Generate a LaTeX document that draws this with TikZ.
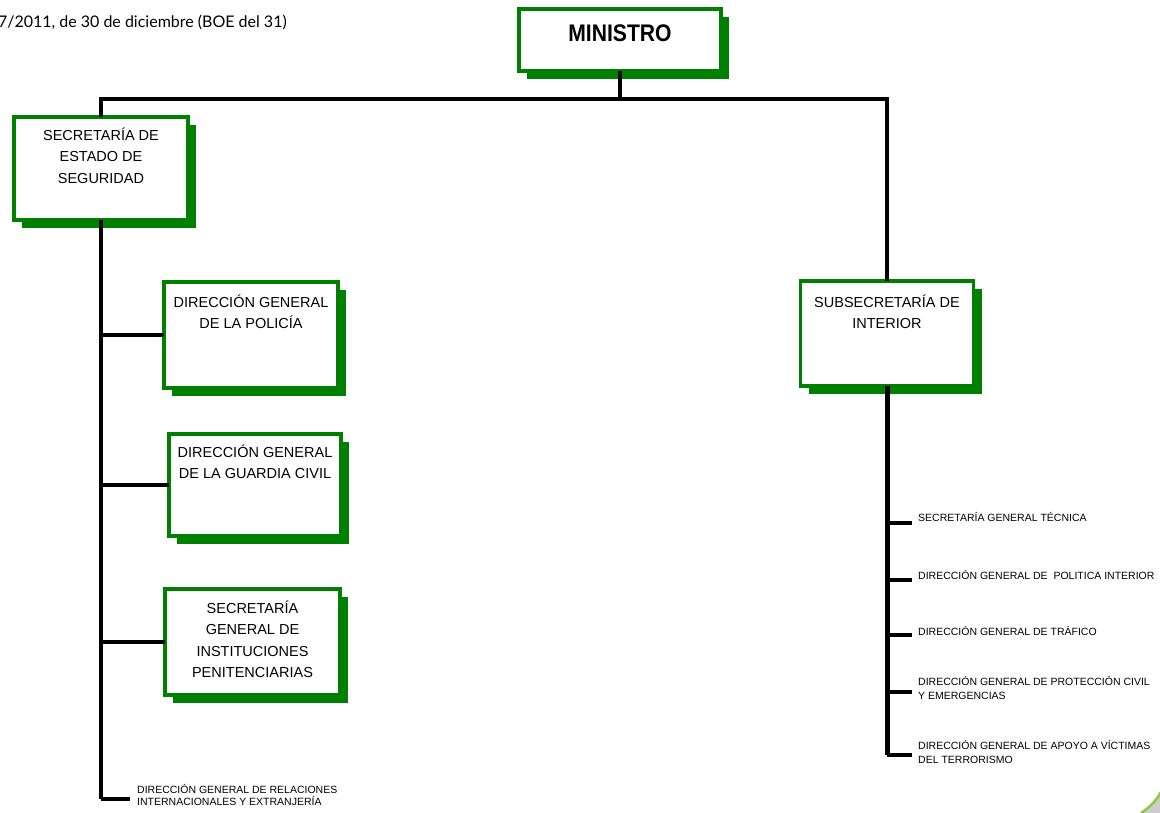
\documentclass[tikz,border=0pt]{standalone}
\usepackage{fontspec}
\setmainfont{Liberation Sans}
\newfontfamily\latofont{Lato}
\usetikzlibrary{shadows,calc,positioning}
\definecolor{boxgreen}{RGB}{0,128,0}
\definecolor{cornergreen}{RGB}{141,198,63}
\definecolor{cornergray}{RGB}{205,205,205}
\begin{document}
\begin{tikzpicture}[x=1pt,y=-1pt,
  orgbox/.style={draw=boxgreen, line width=3.8pt, fill=white, outer sep=0pt, inner sep=0pt,
    drop shadow={shadow xshift=8pt, shadow yshift=-8pt, fill=boxgreen, opacity=1}},
  boxtext/.style={anchor=north, inner sep=0pt, align=center, font=\fontsize{14.5}{21.5}\selectfont},
  smalltext/.style={anchor=west, inner sep=0pt, align=left, font=\fontsize{10.5}{13}\selectfont},
  link/.style={line width=3.5pt, line join=miter},
  heavylink/.style={line width=5pt, line join=miter}]
\path[use as bounding box, fill=white] (0,0) rectangle (1160,812);

% header text
\node[anchor=base east, inner sep=0pt, font=\latofont\fontsize{16}{16}\selectfont] (ref) at (287,27) {7/2011, de 30 de diciembre (BOE del 31)};

% boxes
\node[orgbox, minimum width=202pt, minimum height=62pt] (ministro) at (620,40) {};
\node[orgbox, minimum width=174pt, minimum height=103pt] (ses) at (101,168.5) {};
\node[orgbox, minimum width=174pt, minimum height=106pt] (pol) at (251,335) {};
\node[orgbox, minimum width=172pt, minimum height=102pt] (gc) at (255,485) {};
\node[orgbox, minimum width=175pt, minimum height=106pt] (ip) at (252.5,642) {};
\node[orgbox, minimum width=173pt, minimum height=105pt] (sub) at (887,333.5) {};

% box texts
\node[anchor=base, inner sep=0pt, font=\bfseries\fontsize{24}{24}\selectfont] (mtext) at ([yshift=-32pt]ministro.north) {\scalebox{0.88}[1]{MINISTRO}};
\node[boxtext, below=9.2pt of ses.north] (sestext) {\rule{0pt}{14pt}SECRETARÍA DE\\ESTADO DE\\SEGURIDAD};
\node[boxtext, below=11.2pt of pol.north] (poltext) {\rule{0pt}{14pt}DIRECCIÓN GENERAL\\DE LA POLICÍA};
\node[boxtext, below=9.2pt of gc.north] (gctext) {\rule{0pt}{14pt}DIRECCIÓN GENERAL\\DE LA GUARDIA CIVIL};
\node[boxtext, below=10.2pt of ip.north] (iptext) {\rule{0pt}{14pt}SECRETARÍA\\GENERAL DE\\INSTITUCIONES\\PENITENCIARIAS};
\node[boxtext, below=12.2pt of sub.north] (subtext) {\rule{0pt}{14pt}SUBSECRETARÍA DE\\INTERIOR};

% small texts
\node[smalltext] (t1) at (918,517) {SECRETARÍA GENERAL TÉCNICA};
\node[smalltext] (t2) at (918,575) {DIRECCIÓN GENERAL DE~ POLITICA INTERIOR};
\node[smalltext] (t3) at (918,630.5) {DIRECCIÓN GENERAL DE TRÁFICO};
\node[smalltext, font=\fontsize{10.5}{14}\selectfont] (t4) at (918,688) {DIRECCIÓN GENERAL DE PROTECCIÓN CIVIL\\Y EMERGENCIAS};
\node[smalltext, font=\fontsize{10.5}{14}\selectfont] (t5) at (918,751.5) {DIRECCIÓN GENERAL DE APOYO A VÍCTIMAS\\DEL TERRORISMO};
\node[smalltext, font=\fontsize{10.5}{12}\selectfont] (t6) at (137,795) {DIRECCIÓN GENERAL DE RELACIONES\\INTERNACIONALES Y EXTRANJERÍA};

% branch end points
\coordinate (e1) at ([xshift=-6pt,yshift=-6pt]t1.west);
\coordinate (e2) at ([xshift=-6pt,yshift=-5pt]t2.west);
\coordinate (e3) at ([xshift=-6pt,yshift=-4.5pt]t3.west);
\coordinate (e4) at ([xshift=-6pt,yshift=-4pt]t4.west);
\coordinate (e5) at ([xshift=-6pt,yshift=-3.5pt]t5.west);
\coordinate (e6) at ([xshift=-7pt,yshift=-4pt]t6.west);
\coordinate (mbar) at (620,99);

% connectors
\draw[link] (ministro.south) -- (mbar);
\draw[link] (ses.north) -- (ses.north |- mbar) -- (sub.north |- mbar) -- (sub.north);
\draw[link] (ses.south) -- (ses.south |- e6);
\draw[link] (pol.west -| ses.south) -- (pol.west);
\draw[link] (gc.west -| ses.south) -- (gc.west);
\draw[link] (ip.west -| ses.south) -- (ip.west);
\draw[link] (e6 -| ses.south) -- (e6);
\draw[heavylink] (sub.south) -- (sub.south |- e5);
\foreach \e in {e1,e2,e3,e4,e5} \draw[link] (\e -| sub.south) -- (\e);

% corner decoration
\fill[cornergray] (1141,813) .. controls (1150,807) and (1156,801) .. (1161,792) -- (1161,813) -- cycle;
\draw[cornergreen, line width=2.5pt] (1141,813) .. controls (1150,807) and (1156,801) .. (1161,792);
\end{tikzpicture}
\end{document}
